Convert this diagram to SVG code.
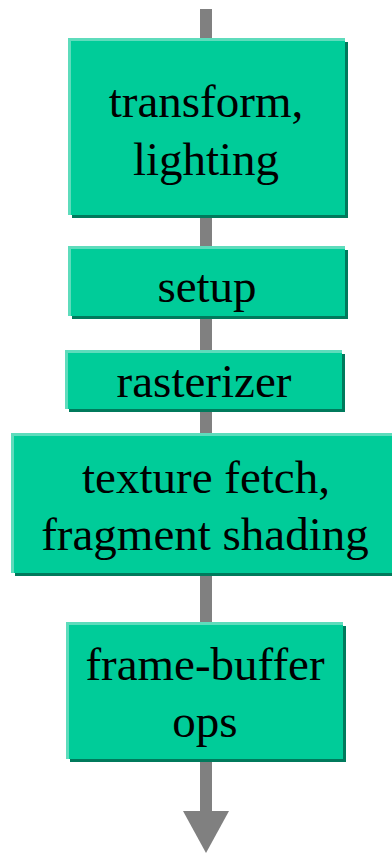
<svg xmlns="http://www.w3.org/2000/svg" width="392" height="853" viewBox="0 0 392 853">
<defs>
<style>
.sh{fill:#007a5c}
.hl{fill:#5edcbc}
.bx{fill:#00cc99}
.t{font-family:"Liberation Serif","Times New Roman",serif;font-size:47px;fill:#000;text-anchor:middle}
.ln{fill:#808080}
</style>
</defs>
<g id="connectors">
<rect class="ln" x="200" y="9" width="12" height="804"/>
<polygon class="ln" points="183,811 229,811 206,853"/>
</g>
<g id="n1">
<rect class="sh" x="72" y="42" width="276" height="176"/>
<rect class="hl" x="68" y="38" width="277" height="177"/>
<rect class="bx" x="71" y="41" width="274" height="174"/>
<text class="t" x="206" y="117">transform,</text>
<text class="t" x="206" y="175">lighting</text>
</g>
<g id="n2">
<rect class="sh" x="72" y="250" width="276" height="69"/>
<rect class="hl" x="68" y="246" width="277" height="70"/>
<rect class="bx" x="71" y="249" width="274" height="67"/>
<text class="t" x="207" y="302">setup</text>
</g>
<g id="n3">
<rect class="sh" x="69" y="354" width="276" height="58"/>
<rect class="hl" x="65" y="350" width="277" height="59"/>
<rect class="bx" x="68" y="353" width="274" height="56"/>
<text class="t" x="204" y="397">rasterizer</text>
</g>
<g id="n4">
<rect class="sh" x="15" y="437" width="390" height="139"/>
<rect class="hl" x="11" y="433" width="390" height="140"/>
<rect class="bx" x="14" y="436" width="390" height="137"/>
<text class="t" x="206" y="493">texture fetch,</text>
<text class="t" x="205" y="550">fragment shading</text>
</g>
<g id="n5">
<rect class="sh" x="70" y="626" width="276" height="136"/>
<rect class="hl" x="66" y="622" width="277" height="137"/>
<rect class="bx" x="69" y="625" width="274" height="134"/>
<text class="t" x="205" y="680">frame-buffer</text>
<text class="t" x="205" y="737">ops</text>
</g>
</svg>
